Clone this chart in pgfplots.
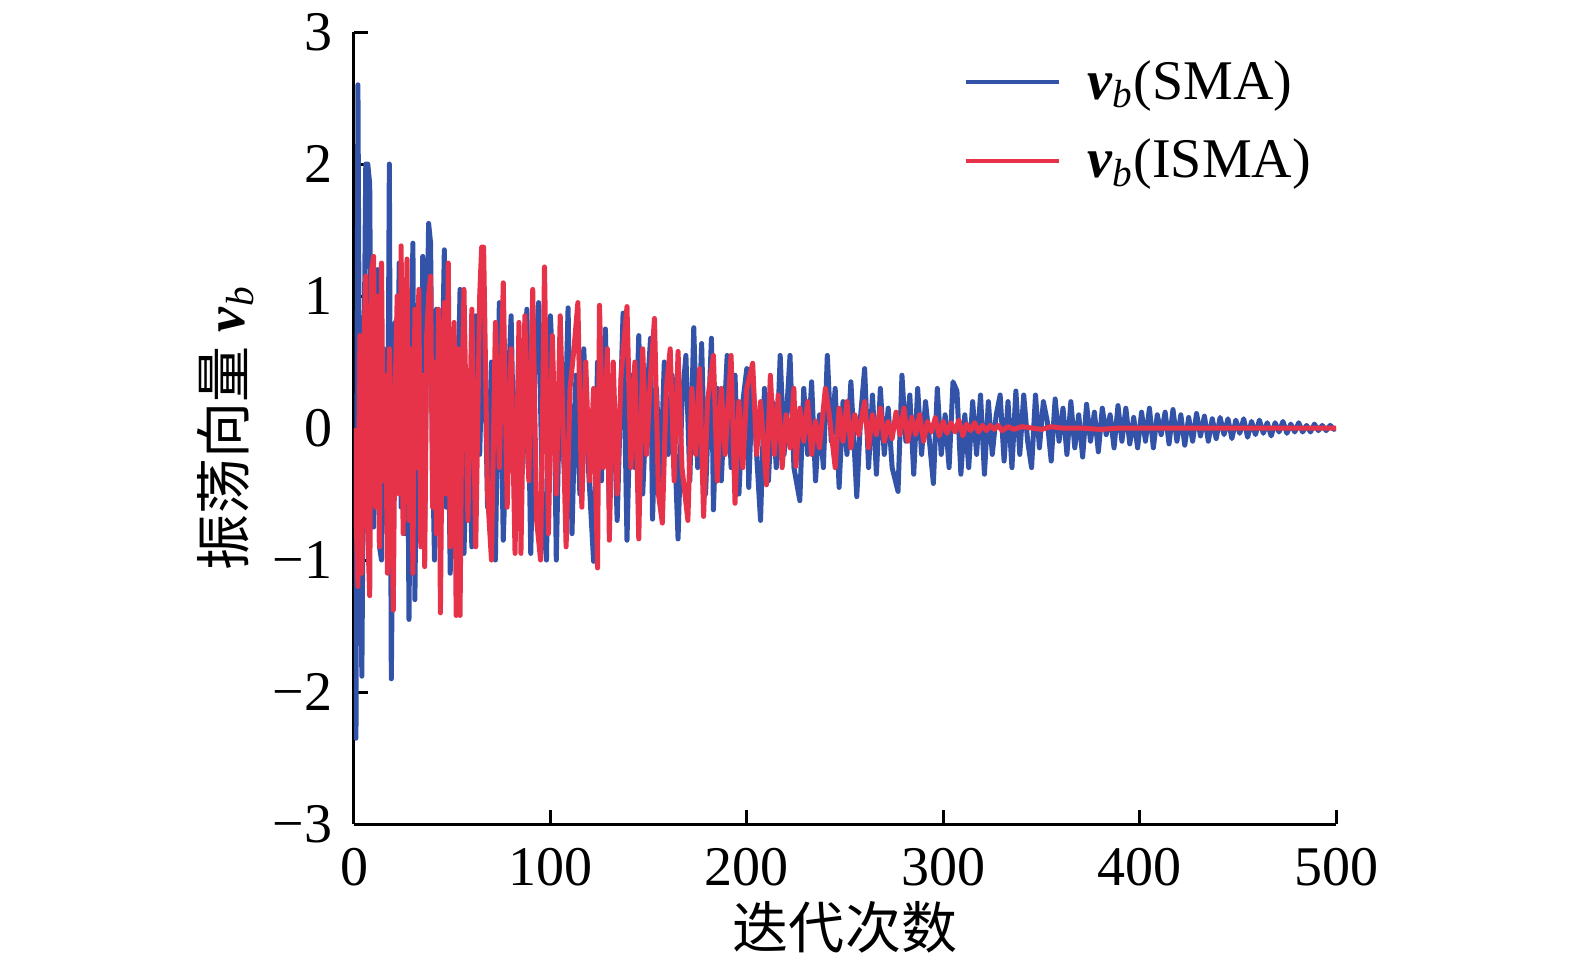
\documentclass[border=0pt]{standalone}
\usepackage{pgfplots}
\pgfplotsset{compat=1.18}
\usepackage{fontspec}
\setmainfont{Liberation Serif}
\newfontfamily\cjk{Noto Sans CJK SC}
\definecolor{smablue}{HTML}{3353A8}
\definecolor{ismared}{HTML}{E6334A}
\begin{document}
\begin{tikzpicture}[font=\fontsize{16.8pt}{20pt}\selectfont]
\useasboundingbox (-106.2pt,-43.2pt) rectangle (366.3pt,247.2pt);
\begin{axis}[
  scale only axis,
  width=294.6pt, height=237.6pt,
  xmin=0, xmax=500, ymin=-3, ymax=3,
  axis lines=left,
  axis line style={-, line width=0.9pt, black},
  tick align=inside,
  major tick length=4.2pt,
  every tick/.style={black, line width=0.9pt},
  xtick={0,100,200,300,400,500},
  ytick={-3,-2,-1,0,1,2,3},
  yticklabels={−3,−2,−1,0,1,2,3},
  xticklabel style={yshift=-3.8pt},
  yticklabel style={xshift=-3pt},
  /pgf/number format/assume math mode=true,
  xlabel={\cjk 迭代次数},
  ylabel={{\cjk 振荡向量} \textbf{\textit{v}}\textsubscript{\textit{b}}},
  xlabel style={at={(axis description cs:0.5,-0.131)}, anchor=center},
  ylabel style={at={(axis description cs:-0.131,0.5)}, anchor=center},
  legend style={draw=none, fill=none, at={(0.61,0.982)}, anchor=north west, row sep=6.5pt,
    nodes={inner xsep=7.8pt}},
  legend cell align=left,
  legend image code/.code={\draw[#1, line width=1.2pt] (0pt,0pt) -- (28pt,0pt);},
  every axis plot/.append style={line width=1.5pt, line join=round},
]
\addplot[smablue] coordinates {
(0,0) (1,-2.35) (2,2.6) (3,-0.6) (4,-1.88) (5,0.3) (6,2.0) (7,2.0) (8,1.85) (9,-0.5) (10,-0.75) (11,0.9) (12,1.2) (13,-0.9) (14,-1.0) (15,0.6) (16,0.1) (17,-0.8) (18,2.0) (19,-1.9) (20,-0.3) (21,0.8) (22,-0.2) (23,1.25) (24,-0.6) (25,0.3) (26,-0.8) (27,0.9) (28,-1.45) (29,0.5) (30,1.4) (31,-1.3) (32,0.2) (33,0.8) (34,-0.5) (35,1.3) (36,-0.7) (37,0.6) (38,1.55) (39,1.4) (40,-0.2) (41,-1.0) (42,0.9) (43,0.2) (44,-0.9) (45,0.5) (46,1.35) (47,-0.6) (48,0.1) (49,-1.1) (50,0.7)
(52,-0.4) (54,1.05) (56,-0.95) (58,0.3) (60,-0.9) (62,0.85) (64,-0.2) (66,1.0) (68,-0.6) (70,0.5) (72,-1.0) (74,0.95) (76,-0.85) (78,0.1) (80,0.85) (82,-0.7) (84,0.6) (86,-0.3) (88,0.9) (90,-0.95) (92,0.4) (94,0.95) (96,-0.6) (98,-1.0) (100,0.85) (102,0.2) (103,-1.0) (105,0.5) (107,-0.3) (109,0.91) (111,-0.8) (113,0.4) (115,-0.5) (117,0.6) (119,-0.2) (122,-1.01) (124,0.5) (126,-0.4) (128,0.75) (130,-0.6) (132,0.3) (134,-0.7) (137,0.87) (139,-0.85) (141,0.4) (143,-0.3) (145,0.7) (147,-0.5) (149,0.2) (151,0.68) (152,-0.69) (154,0.3) (156,-0.4) (158,0.5) (160,-0.2) (162,0.4) (165,-0.84) (167,0.2) (169,0.55) (171,-0.4) (173,0.76) (175,-0.3) (177,0.64) (179,-0.5) (182,0.68) (183,-0.62) (185,0.3) (187,-0.4) (190,0.55) (192,-0.3) (194,0.4) (196,-0.5) (198,0.2) (200,0.45)
(201,-0.45) (203,0.4) (205,-0.2) (207,-0.7) (209,0.3) (211,-0.4) (213,0.2) (215,-0.3) (217,0.55) (219,-0.2) (222,0.55) (224,-0.3) (227,-0.55) (229,0.3) (231,-0.2) (233,0.35) (235,-0.4) (237,0.1) (239,-0.3) (241,0.55) (243,-0.1) (245,0.3) (247,-0.45) (249,0.2) (251,-0.2) (253,0.35) (256,-0.52) (258,0.1) (260,0.45) (262,-0.3) (264,0.25) (266,-0.35) (268,0.3) (270,-0.2) (272,0.15) (274,-0.3) (277,-0.48) (279,0.4) (281,-0.1) (283,0.25) (285,-0.35) (287,0.3) (289,-0.2) (291,0.2) (293,-0.1) (295,-0.42) (297,0.3) (299,-0.2)
(301,0.1) (303,-0.3) (305,0.35) (307,0.28) (309,-0.35) (311,0.1) (313,-0.3) (315,0.2) (317,-0.2) (319,0.25) (321,-0.35) (323,0.2) (325,-0.2) (327,0.1) (329,0.25) (331,-0.25) (333,0.2) (335,-0.3) (337,0.28) (339,-0.2) (341,0.25) (343,-0.1) (345,-0.3) (347,0.25) (349,-0.15) (351,0.2) (353,0.05) (355,-0.25) (357,0.22) (359,-0.1) (361,0.15) (363,-0.2) (365,0.2) (367,-0.15) (369,0.1) (371,-0.22) (373,0.18) (375,-0.1) (377,0.12) (379,-0.18) (381,0.15) (383,-0.05) (385,0.1) (387,-0.15) (389,0.17) (391,-0.1) (393,0.15) (395,-0.12) (397,0.08) (399,-0.15)
(401,0.12) (403,-0.1) (405,0.15) (407,-0.15) (409,0.1) (411,-0.05) (413,0.12) (415,-0.12) (417,0.14) (419,-0.1) (421,0.1) (423,-0.13) (425,0.08) (427,-0.1) (429,0.11) (431,-0.06) (433,0.09) (435,-0.1) (437,0.07) (439,-0.08) (441,0.08) (443,-0.05) (445,0.07) (447,-0.08) (449,0.06) (451,-0.04) (453,0.07) (455,-0.07) (457,0.05) (459,-0.05) (461,0.06) (463,-0.04) (465,0.04) (467,-0.06) (469,0.04) (471,-0.03) (473,0.05) (475,-0.04) (477,0.03) (479,-0.03) (481,0.04) (483,-0.03) (485,0.02) (487,-0.03) (489,0.03) (491,-0.02) (493,0.02) (495,-0.02) (497,0.02) (499,-0.01) (500,0)
};
\addlegendentry{\textbf{\textit{v}}\textsubscript{\textit{b}}(SMA)}
\addplot[ismared] coordinates {
(0,0) (1,-0.6) (2,-1.2) (3,0.7) (4,-1.1) (5,0.6) (6,1.15) (7,-0.8) (8,-1.27) (9,1.2) (10,1.3) (11,-0.6) (12,1.0) (13,-0.9) (14,1.25) (15,-0.4) (16,0.4) (17,-1.1) (18,0.6) (19,-0.2) (20,-1.38) (21,0.3) (22,1.0) (23,-0.5) (24,1.38) (25,-0.8) (26,0.3) (27,1.28) (28,-0.7) (29,0.6) (30,-1.1) (31,0.9) (32,-0.3) (33,1.05) (34,-0.9) (35,0.4) (36,-1.05) (37,0.7) (38,1.0) (39,1.15) (40,-0.6) (41,0.5) (42,-0.8) (43,0.9) (44,-1.4) (45,0.2) (46,0.95) (47,-0.5) (48,1.25) (49,-0.9) (50,0.4) (51,0.8) (52,-1.42) (53,0.6) (54,-1.42) (55,0.3) (56,1.05) (58,-0.7) (60,0.9) (62,-0.9) (64,1.0) (65,1.37) (66,1.37) (68,-0.5) (70,-1.0) (72,0.8) (74,-0.3) (76,1.1) (78,-0.6) (80,0.6) (82,-0.95) (84,0.8) (85,-0.95) (87,0.85) (89,-0.4) (91,1.05) (93,-0.7) (95,-1.0) (97,1.22) (99,-0.8)
(101,0.7) (103,-0.5) (105,0.85) (108,-0.9) (110,0.3) (112,0.6) (114,0.95) (116,-0.6) (118,0.5) (120,-0.4) (122,0.3) (124,-1.06) (125,0.93) (127,-0.3) (129,0.6) (130,-0.85) (132,0.5) (134,-0.5) (136,0.4) (139,0.92) (141,-0.3) (143,0.5) (145,-0.84) (147,0.6) (149,-0.2) (151,0.4) (153,0.83) (155,-0.5) (157,-0.72) (159,0.3) (161,0.6) (163,-0.4) (165,0.58) (167,-0.3) (170,-0.7) (172,0.3) (174,-0.2) (176,0.45) (178,-0.67) (180,0.2) (183,0.55) (185,-0.4) (187,0.3) (189,-0.2) (192,0.55) (194,-0.57) (196,0.2) (198,-0.3) (200,0.3)
(203,0.49) (205,-0.2) (207,0.2) (210,-0.43) (212,0.4) (214,-0.2) (216,0.25) (218,-0.3) (220,0.1) (222,-0.15) (224,0.3) (225,-0.29) (227,0.15) (229,-0.1) (231,0.2) (233,-0.2) (235,0.05) (237,-0.15) (240,0.3) (242,0.1) (245,-0.3) (247,0.15) (249,-0.1) (251,0.2) (253,-0.15) (255,0.1) (257,-0.05) (260,0.2) (262,-0.15) (264,0.1) (266,-0.05) (268,0.15) (270,-0.1) (272,0.05) (274,-0.08) (276,0.12) (278,-0.05) (280,0.15) (282,-0.1) (284,0.08) (286,-0.05) (288,0.1) (290,-0.1) (292,0.05) (294,-0.03) (296,0.08) (298,-0.06) (300,0.05)
(302,-0.04) (304,0.04) (306,-0.03) (308,0.06) (310,-0.06) (312,0.03) (314,-0.02) (316,0.04) (318,-0.03) (320,0.02) (322,-0.02) (324,0.02) (326,-0.01) (328,0.02) (330,-0.02) (333,0.01) (336,-0.01) (340,0.01) (345,0) (350,-0.01) (355,0.01) (360,0) (370,0) (380,-0.01) (390,0) (400,0) (450,0) (500,0)
};
\addlegendentry{\textbf{\textit{v}}\textsubscript{\textit{b}}(ISMA)}
\end{axis}
\end{tikzpicture}
\end{document}
